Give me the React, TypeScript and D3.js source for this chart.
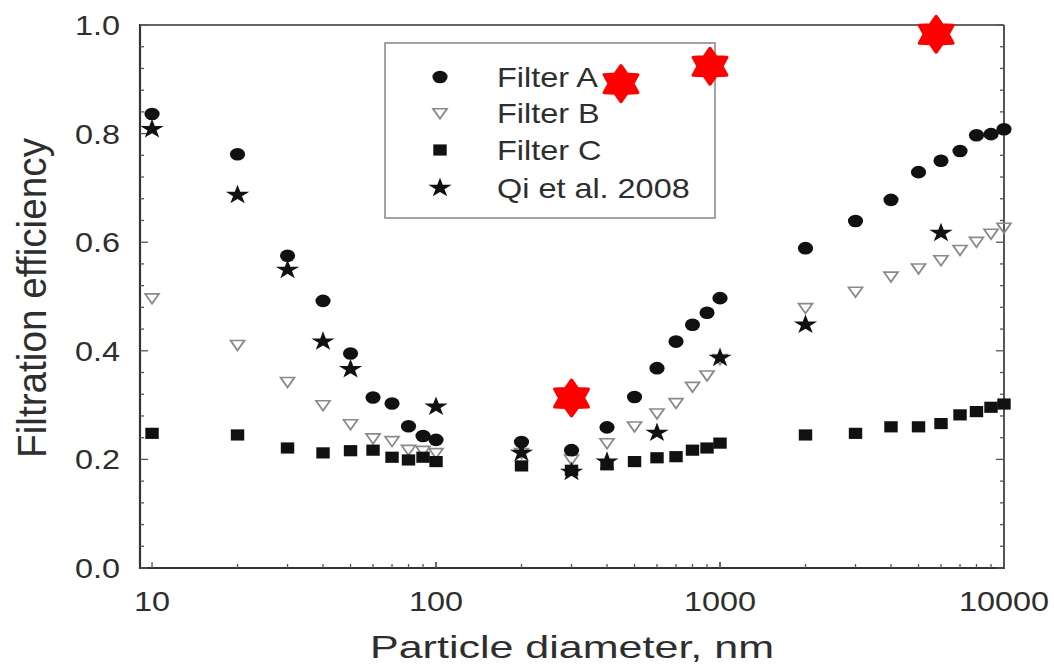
import React from 'react';
import * as d3 from 'd3';

// diameters (nm)
const diamFull = [10, 20, 30, 40, 50, 60, 70, 80, 90, 100, 200, 300, 400, 500, 600, 700, 800, 900, 1000,
  2000, 3000, 4000, 5000, 6000, 7000, 8000, 9000, 10000];

const filterA = [0.836, 0.762, 0.575, 0.492, 0.395, 0.314, 0.303, 0.261, 0.243, 0.236, 0.232, 0.217, 0.259, 0.315,
  0.368, 0.417, 0.448, 0.470, 0.497, 0.589, 0.639, 0.678, 0.729, 0.750, 0.768, 0.797, 0.799, 0.808];
const filterB = [0.497, 0.411, 0.343, 0.300, 0.265, 0.239, 0.234, 0.218, 0.216, 0.212, 0.212, 0.200, 0.230, 0.261,
  0.285, 0.304, 0.334, 0.355, 0.385, 0.479, 0.509, 0.537, 0.552, 0.567, 0.586, 0.601, 0.616, 0.627];
const filterC = [0.248, 0.245, 0.221, 0.212, 0.216, 0.217, 0.204, 0.199, 0.204, 0.196, 0.188, 0.180, 0.190, 0.196,
  0.203, 0.205, 0.217, 0.221, 0.230, 0.245, 0.248, 0.260, 0.260, 0.266, 0.282, 0.288, 0.296, 0.302];

const qiDiam = [10, 20, 30, 40, 50, 100, 200, 300, 400, 600, 1000, 2000, 6000];
const qiEff = [0.808, 0.687, 0.549, 0.417, 0.366, 0.297, 0.212, 0.177, 0.196, 0.249, 0.387, 0.448, 0.617];

// red six-pointed annotation stars
const markDiam = [300, 448, 922, 5770];
const markEff = [0.313, 0.892, 0.924, 0.983];

const yTicks = [0, 0.2, 0.4, 0.6, 0.8, 1.0];
const xTickLabels = [10, 100, 1000, 10000];
const legendLabels = ['Filter A', 'Filter B', 'Filter C', 'Qi et al. 2008'];

const W = 1054;
const H = 666;
const font = '"Liberation Sans", Arial, Helvetica, sans-serif';
const textColor = '#2e2e2e';
const SX = 1.2; // the picture is stretched sideways a little

const x = d3.scaleLog().domain([9.07, 10000]).range([140, 1004]);
const y = d3.scaleLinear().domain([0, 1]).range([568, 25]);

const circlePath = d3.symbol(d3.symbolCircle, 125)()!;
const squarePath = d3.symbol(d3.symbolSquare, 125)()!;
const starPath = d3.symbol(d3.symbolStar, 118)()!;
const triPath = 'M-5.8,-4.3L5.8,-4.3L0,5.6Z';
const hexPath = d3.lineRadial<number>()
  .angle((_, i) => (i * Math.PI) / 6)
  .radius((_, i) => (i % 2 === 0 ? 18 : 11))
  .curve(d3.curveLinearClosed)(d3.range(12))!;

type Kind = 'circle' | 'tri' | 'square' | 'star';

const Marker = ({ kind, cx, cy }: { kind: Kind; cx: number; cy: number }) => {
  const t = `translate(${cx},${cy}) scale(${SX},1)`;
  if (kind === 'tri') {
    return <path d={triPath} transform={t} fill="none" stroke="#8a8a8a" strokeWidth={1.6} />;
  }
  const d = kind === 'circle' ? circlePath : kind === 'square' ? squarePath : starPath;
  return <path d={d} transform={t} fill="#111" />;
};

const App = () => {
  const yMinor = d3.range(0, 1.0001, 0.04);
  const xMinor: number[] = [];
  [10, 100, 1000].forEach((dec) => {
    for (let k = 1; k <= 10; k++) xMinor.push(dec * k);
  });

  const series: { kind: Kind; xs: number[]; ys: number[] }[] = [
    { kind: 'tri', xs: diamFull, ys: filterB },
    { kind: 'square', xs: diamFull, ys: filterC },
    { kind: 'circle', xs: diamFull, ys: filterA },
    { kind: 'star', xs: qiDiam, ys: qiEff },
  ];
  const legendKinds: Kind[] = ['circle', 'tri', 'square', 'star'];
  const legendRows = [77, 113, 150, 188];

  return (
    <svg width={W} height={H} style={{ position: 'fixed', left: 0, top: 0, background: '#fff' }}
      fontFamily={font}>
      <rect width={W} height={H} fill="#fff" />

      {/* frame */}
      <line x1={140} x2={1004} y1={25} y2={25} stroke="#666" strokeWidth={2} />
      <line x1={1004} x2={1004} y1={25} y2={568} stroke="#555" strokeWidth={2} />
      <line x1={140} x2={140} y1={24} y2={569} stroke="#333" strokeWidth={2.2} />
      <line x1={139} x2={1005} y1={568} y2={568} stroke="#333" strokeWidth={2.2} />

      {/* y ticks, inward on both sides */}
      {yMinor.map((v) => {
        const major = Math.abs(v * 5 - Math.round(v * 5)) < 1e-6;
        const len = major ? 8 : 4;
        return (
          <g key={`yt${v}`} stroke="#555" strokeWidth={1.3}>
            <line x1={140} x2={140 + len} y1={y(v)} y2={y(v)} />
            <line x1={1004} x2={1004 - len} y1={y(v)} y2={y(v)} />
          </g>
        );
      })}
      {/* x ticks */}
      {xMinor.map((v) => {
        const major = xTickLabels.includes(v);
        return (
          <line key={`xt${v}`} x1={x(v)} x2={x(v)} y1={568} y2={568 - (major ? 6 : 4)}
            stroke="#555" strokeWidth={1.3} />
        );
      })}

      {/* tick labels */}
      {yTicks.map((v) => (
        <text key={`yl${v}`} transform={`translate(120,${y(v) + 10}) scale(${SX},1)`} textAnchor="end"
          fontSize={27} fill={textColor}>{v.toFixed(1)}</text>
      ))}
      {xTickLabels.map((v) => (
        <text key={`xl${v}`} transform={`translate(${x(v)},${611}) scale(${SX},1)`} textAnchor="middle"
          fontSize={27} fill={textColor}>{v}</text>
      ))}

      {/* axis titles */}
      <text x={572} y={658} textAnchor="middle" fontSize={32} fill={textColor}
        textLength={404} lengthAdjust="spacingAndGlyphs">Particle diameter, nm</text>
      <text transform={`translate(46,298) scale(1.12,1) rotate(-90)`} textAnchor="middle" fontSize={36}
        fill={textColor} textLength={320} lengthAdjust="spacingAndGlyphs">Filtration efficiency</text>

      {/* data */}
      {series.map((s) => (
        <g key={s.kind}>
          {s.xs.map((d, i) => (
            <Marker key={i} kind={s.kind} cx={x(d)} cy={y(s.ys[i])} />
          ))}
        </g>
      ))}

      {/* legend */}
      <rect x={385} y={43} width={330} height={175} fill="none" stroke="#999" strokeWidth={1.8} />
      {legendLabels.map((lab, i) => (
        <g key={lab}>
          <Marker kind={legendKinds[i]} cx={440} cy={legendRows[i]} />
          <text transform={`translate(497,${legendRows[i] + 10}) scale(${SX},1)`} fontSize={27}
            fill={textColor}>{lab}</text>
        </g>
      ))}

      {/* red annotation stars */}
      {markDiam.map((d, i) => (
        <path key={`m${i}`} d={hexPath} transform={`translate(${x(d)},${y(markEff[i])}) scale(1.08,1)`}
          fill="#f00" stroke="#f00" strokeWidth={3} strokeLinejoin="round" />
      ))}
    </svg>
  );
};

export default App;
